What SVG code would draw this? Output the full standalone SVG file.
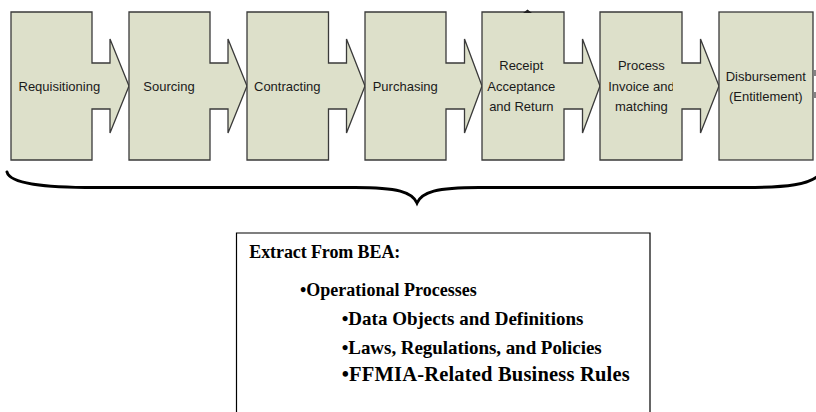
<svg xmlns="http://www.w3.org/2000/svg" width="816" height="412" viewBox="0 0 816 412">
<style>
.step{fill:#DDE0CA;stroke:#3a3a3a;stroke-width:1.3;stroke-linejoin:miter}
.lbl{font-family:"Liberation Sans",Arial,sans-serif;font-size:13px;fill:#1a1a1a}
.mid{text-anchor:middle}
.bea{font-family:"Liberation Serif","Times New Roman",serif;font-size:18px;font-weight:bold;fill:#000}
.big{font-size:19px}
.bigger{font-size:20.5px}
.brace{fill:none;stroke:#000;stroke-width:3;stroke-linecap:round}
</style>
<defs>
<clipPath id="clip6"><rect x="600" y="12" width="73" height="148"/></clipPath>
</defs>
<rect width="816" height="412" fill="#fff"/>
<g id="requisitioning">
<path class="step" d="M11,12 H92 V63 H110 V39 L129,86 L110,133 V109 H92 V160 H11 Z"/>
<text class="lbl" x="18.5" y="90.5">Requisitioning</text>
</g>
<g id="sourcing">
<path class="step" d="M129,12 H210 V63 H228 V39 L247,86 L228,133 V109 H210 V160 H129 Z"/>
<text class="lbl" x="143.3" y="90.5">Sourcing</text>
</g>
<g id="contracting">
<path class="step" d="M247,12 H328.5 V63 H346.5 V39 L365,86 L346.5,133 V109 H328.5 V160 H247 Z"/>
<text class="lbl" x="254" y="90.5">Contracting</text>
</g>
<g id="purchasing">
<path class="step" d="M365,12 H446 V63 H464.5 V39 L482,86 L464.5,133 V109 H446 V160 H365 Z"/>
<text class="lbl" x="372.7" y="90.5">Purchasing</text>
</g>
<g id="receipt">
<path class="step" d="M482,12 H564 V63 H582.5 V39 L600,86 L582.5,133 V109 H564 V160 H482 Z"/>
<text class="lbl mid" x="521.3" y="70">Receipt</text>
<text class="lbl mid" x="521.3" y="90.5">Acceptance</text>
<text class="lbl mid" x="521.3" y="110.5">and Return</text>
<path d="M523,13 L527.5,9.5 L532,13 Z" fill="#222"/>
</g>
<g id="invoice">
<path class="step" d="M600,12 H682 V63 H700.5 V39 L719,86 L700.5,133 V109 H682 V160 H600 Z"/>
<g clip-path="url(#clip6)">
<text class="lbl mid" x="641.4" y="70">Process</text>
<text class="lbl mid" x="641.4" y="90.5">Invoice and</text>
<text class="lbl mid" x="641.4" y="110.5">matching</text>
</g>
</g>
<g id="disbursement">
<rect class="step" x="719" y="12" width="94" height="148"/>
<text class="lbl mid" x="765.8" y="80.5">Disbursement</text>
<text class="lbl mid" x="765.8" y="101">(Entitlement)</text>
<path d="M815,70 V76 M815,92 V98" stroke="#333" stroke-width="1.2"/>
</g>
<g id="connectors">
<path class="brace" d="M7,172 C10,184 45,187.5 95,187.5 L355,187.5 C398,187.5 412,192 417,203 C422,192 436,187.5 479,187.5 L745,187.5 C790,187.5 808,184 818,176"/>
</g>
<g id="bea-extract">
<path d="M236.5,412 V233 H650 V412" fill="#fff" stroke="#000" stroke-width="1.2"/>
<text class="bea" x="249.3" y="257.7" textLength="151" lengthAdjust="spacing">Extract From BEA:</text>
<text class="bea" x="300" y="296.4" textLength="176.7" lengthAdjust="spacing">•Operational Processes</text>
<text class="bea big" x="341.7" y="325.4" textLength="241.7" lengthAdjust="spacing">•Data Objects and Definitions</text>
<text class="bea big" x="341.7" y="353.7" textLength="260" lengthAdjust="spacing">•Laws, Regulations, and Policies</text>
<text class="bea bigger" x="341.7" y="381.4" textLength="288" lengthAdjust="spacing">•FFMIA-Related Business Rules</text>
</g>
</svg>
